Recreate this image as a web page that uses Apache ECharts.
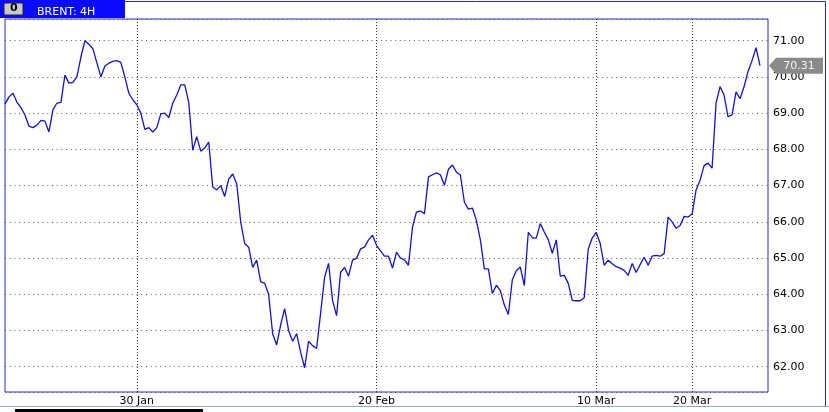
<!DOCTYPE html>
<html>
<head>
<meta charset="utf-8">
<script src="https://cdn.jsdelivr.net/npm/echarts@6/dist/echarts.min.js"></script>
<style>
html,body{margin:0;padding:0;background:#fff;}
#chart{width:829px;height:412px;}
</style>
</head>
<body>
<div id="chart"></div>
<script>
// 4H closes of BRENT, one value per bar
const closes = [
  69.25, 69.45, 69.55, 69.3, 69.15, 68.95, 68.64, 68.6, 68.67, 68.8,
  68.78, 68.48, 69.09, 69.28, 69.3, 70.05, 69.83, 69.85, 70.0, 70.55,
  71.0, 70.9, 70.78, 70.39, 70.0, 70.3, 70.38, 70.43, 70.45, 70.4,
  70.0, 69.55, 69.37, 69.23, 69.0, 68.55, 68.6, 68.48, 68.6, 68.98,
  69.0, 68.88, 69.28, 69.5, 69.78, 69.78, 69.3, 67.98, 68.35, 67.95,
  68.04, 68.2, 66.96, 66.88, 67.0, 66.7, 67.18, 67.32, 67.05, 66.0,
  65.4, 65.3, 64.74, 64.94, 64.35, 64.3, 64.0, 62.91, 62.6, 63.15,
  63.6, 63.0, 62.7, 62.91, 62.4, 61.97, 62.7, 62.58, 62.5, 63.47,
  64.47, 64.85, 63.83, 63.41, 64.6, 64.74, 64.5, 64.94, 64.99, 65.25,
  65.3, 65.5, 65.63, 65.35, 65.2, 65.05, 65.05, 64.72, 65.16, 65.0,
  64.95, 64.8, 65.85, 66.27, 66.3, 66.22, 67.24, 67.3, 67.35, 67.3,
  67.01, 67.45, 67.57, 67.37, 67.29, 66.54, 66.35, 66.38, 66.04, 65.5,
  64.7, 64.7, 64.02, 64.25, 64.1, 63.7, 63.44, 64.4, 64.65, 64.75,
  64.24, 65.71, 65.56, 65.55, 65.95, 65.72, 65.5, 65.13, 65.5, 64.5,
  64.52, 64.3, 63.83, 63.82, 63.82, 63.9, 65.25, 65.55, 65.71, 65.4,
  64.8, 64.94, 64.84, 64.76, 64.72, 64.66, 64.52, 64.85, 64.6, 64.82,
  65.02, 64.8, 65.05, 65.07, 65.05, 65.12, 66.13, 66.0, 65.82, 65.9,
  66.15, 66.13, 66.22, 66.88, 67.15, 67.55, 67.62, 67.48, 69.28, 69.73,
  69.5, 68.9, 68.95, 69.59, 69.4, 69.73, 70.15, 70.45, 70.81, 70.31
];
const barCount = 192;                       // number of 4H slots on the axis
const tickLabels = ['30 Jan', '20 Feb', '10 Mar', '20 Mar'];
const tickBars = [33, 93, 148, 172];        // bar index of each date tick
const yMin = 61.3, yMax = 71.6;
const chartTitle = 'BRENT: 4H';

const categories = [];
for (let i = 0; i < barCount; i++) {
  const k = tickBars.indexOf(i);
  categories.push(k >= 0 ? tickLabels[k] : 'bar ' + i);
}
const isTick = (idx) => tickBars.indexOf(idx) >= 0;
const lastIdx = closes.length - 1;
const lastVal = closes[lastIdx];

const FONT = 'DejaVu Sans';
const chart = echarts.init(document.getElementById('chart'), null, {renderer: 'canvas'});
chart.setOption({
  animation: false,
  backgroundColor: '#ffffff',
  title: {
    text: chartTitle, left: 32, top: 2,
    textStyle: {color: '#ffffff', fontSize: 11, fontWeight: 'normal', fontFamily: FONT}
  },
  grid: {
    left: 5, right: 61, top: 19, bottom: 20,
    show: true, borderColor: '#2a2ac8', borderWidth: 1, backgroundColor: 'transparent'
  },
  xAxis: {
    type: 'category', data: categories, boundaryGap: false,
    axisLine: {show: false}, axisTick: {show: false},
    axisLabel: {
      interval: (idx) => isTick(idx), color: '#000', fontSize: 11, fontFamily: FONT, margin: 4
    },
    splitLine: {show: true, interval: (idx) => isTick(idx),
      lineStyle: {color: '#333', width: 1, type: [1, 2]}}
  },
  yAxis: {
    type: 'value', position: 'right', min: yMin, max: yMax, splitNumber: 10,
    axisLine: {show: false}, axisTick: {show: false},
    axisLabel: {
      color: '#000', fontSize: 11, fontFamily: FONT, margin: 5,
      showMinLabel: false, showMaxLabel: false,
      formatter: (v) => Math.abs(v - Math.round(v)) < 1e-6 ? v.toFixed(2) : ''
    },
    splitLine: {show: true, lineStyle: {color: '#555', width: 1, type: [1, 3.7]}}
  },
  series: [{
    type: 'line', data: closes, showSymbol: false, symbol: 'none',
    lineStyle: {color: '#1212d4', width: 1.3}, clip: false,
    markPoint: {
      silent: true,
      symbol: 'path://M0,8 L7,0 L54,0 L54,16 L7,16 Z',
      symbolSize: [54, 16], symbolKeepAspect: false, symbolOffset: [36, 0],
      itemStyle: {color: '#8a8a8a'},
      label: {show: true, position: 'inside', color: '#f4f4f4', fontSize: 11, fontFamily: FONT,
        offset: [3, 0], formatter: (p) => Number(p.value).toFixed(2)},
      data: [{coord: [lastIdx, lastVal], value: lastVal}]
    }
  }],
  graphic: [
    {type: 'rect', z: -1, shape: {x: 0, y: 0, width: 125, height: 18}, style: {fill: '#0a0aff'}},
    {type: 'rect', z: 1, shape: {x: 4, y: 3, width: 19, height: 12}, style: {fill: '#c8c8c8', stroke: '#222', lineWidth: 1}},
    {type: 'text', z: 2, x: 10, y: 3, style: {text: '0', fill: '#000', font: 'bold 11px DejaVu Sans'}},
    {type: 'line', shape: {x1: 125, y1: 1.5, x2: 825.5, y2: 1.5}, style: {stroke: '#2a2ac8', lineWidth: 1}},
    {type: 'line', shape: {x1: 825.5, y1: 1.5, x2: 825.5, y2: 406}, style: {stroke: '#2a2ac8', lineWidth: 1}},
    {type: 'line', shape: {x1: 0, y1: 406.5, x2: 829, y2: 406.5}, style: {stroke: '#8aa8e0', lineWidth: 1}},
    {type: 'rect', shape: {x: 15, y: 409, width: 188, height: 3}, style: {fill: '#000'}}
  ]
});
</script>
</body>
</html>
